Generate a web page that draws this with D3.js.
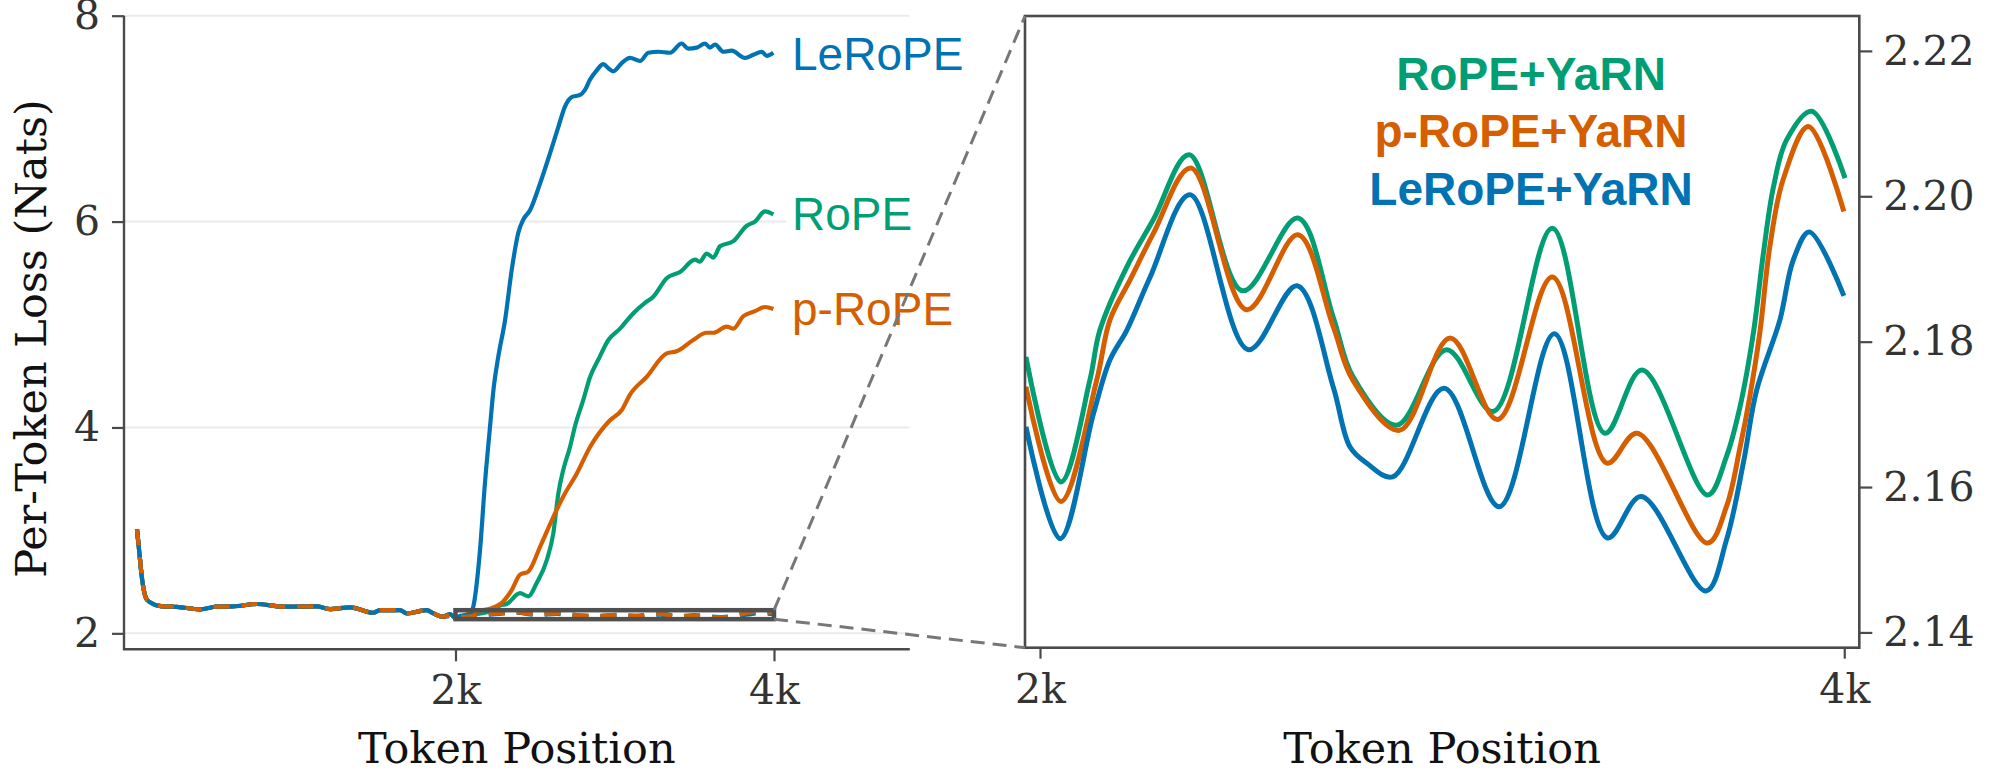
<!DOCTYPE html>
<html>
<head>
<meta charset="utf-8">
<script src="https://cdn.jsdelivr.net/npm/d3@7"></script>
<style>
  body { margin: 0; background: #fff; }
  svg { display: block; }
</style>
</head>
<body>
<div id="chart"></div>
<script>
// shared loss inside the training window (token, loss)
const baseLoss = [[0,3.01],[15,2.78],[30,2.55],[61,2.33],[102,2.285],[150,2.265],[250,2.258],[396,2.233],[500,2.259],[605,2.262],[752,2.285],[919,2.259],[1128,2.262],[1212,2.236],[1338,2.253],[1484,2.200],[1526,2.226],[1651,2.226],[1694,2.194],[1819,2.226],[1861,2.194],[1923,2.161],[1965,2.188],[2000,2.15]];

// extrapolation without YaRN
const ropeExt = [[2050,2.17],[2150,2.19],[2230,2.22],[2279,2.27],[2321,2.285],[2405,2.39],[2457,2.36],[2510,2.49],[2573,2.71],[2614,2.97],[2646,3.36],[2677,3.59],[2719,3.81],[2750,4.01],[2803,4.27],[2845,4.49],[2897,4.66],[2960,4.85],[3033,4.96],[3117,5.11],[3190,5.21],[3242,5.27],[3326,5.45],[3410,5.51],[3504,5.63],[3535,5.61],[3577,5.69],[3619,5.65],[3661,5.76],[3745,5.81],[3829,5.96],[3881,6.00],[3944,6.10],[3996,6.07]];
const pRopeExt = [[2050,2.17],[2112,2.21],[2217,2.24],[2300,2.31],[2353,2.42],[2405,2.57],[2457,2.60],[2531,2.84],[2614,3.13],[2677,3.33],[2761,3.55],[2845,3.81],[2970,4.07],[3044,4.17],[3096,4.32],[3200,4.49],[3326,4.72],[3389,4.74],[3493,4.85],[3577,4.92],[3619,4.92],[3703,4.98],[3745,4.96],[3807,5.08],[3881,5.13],[3944,5.17],[3996,5.15]];
const leRopeExt = [[2030,2.17],[2090,2.18],[2112,2.26],[2154,2.81],[2185,3.46],[2217,4.01],[2238,4.36],[2269,4.69],[2311,5.04],[2353,5.53],[2394,5.89],[2426,6.02],[2468,6.11],[2531,6.37],[2593,6.66],[2646,6.92],[2688,7.12],[2730,7.21],[2782,7.23],[2813,7.28],[2845,7.38],[2887,7.47],[2928,7.53],[2960,7.49],[2991,7.46],[3044,7.54],[3096,7.59],[3159,7.56],[3211,7.64],[3274,7.65],[3347,7.64],[3420,7.73],[3462,7.68],[3515,7.69],[3567,7.73],[3598,7.69],[3630,7.72],[3682,7.65],[3734,7.66],[3818,7.59],[3870,7.62],[3923,7.65],[3954,7.61],[3996,7.64]];

// extrapolation with YaRN (zoomed panel)
const ropeYarn = [[1965,2.1779],[2052,2.1607],[2124,2.1747],[2149,2.1816],[2216,2.1903],[2282,2.1968],[2371,2.2057],[2504,2.1870],[2641,2.1970],[2729,2.1834],[2778,2.1752],[2887,2.1685],[3011,2.1789],[3127,2.1704],[3274,2.1956],[3405,2.1674],[3497,2.1761],[3660,2.1589],[3707,2.1642],[3741,2.1711],[3774,2.1812],[3799,2.1922],[3824,2.2013],[3857,2.2078],[3919,2.2117],[4002,2.2025]];
const pRopeYarn = [[1965,2.1738],[2052,2.1580],[2141,2.1747],[2174,2.1830],[2224,2.1885],[2282,2.1949],[2375,2.2039],[2514,2.1844],[2641,2.1947],[2729,2.1821],[2778,2.1747],[2894,2.1678],[3020,2.1805],[3138,2.1693],[3274,2.1889],[3410,2.1633],[3485,2.1674],[3660,2.1523],[3707,2.1573],[3741,2.1655],[3765,2.1724],[3790,2.1812],[3815,2.1931],[3848,2.2023],[3911,2.2096],[3999,2.1979]];
const leRopeYarn = [[1965,2.1683],[2050,2.1529],[2133,2.1701],[2174,2.1775],[2216,2.1816],[2274,2.1889],[2373,2.2002],[2518,2.1789],[2639,2.1877],[2729,2.1738],[2771,2.1655],[2812,2.1633],[2877,2.1614],[3005,2.1736],[3142,2.1573],[3279,2.1811],[3411,2.1530],[3495,2.1587],[3656,2.1457],[3707,2.1527],[3749,2.1633],[3782,2.1733],[3840,2.1830],[3873,2.1912],[3913,2.1951],[3999,2.1863]];

const labelsLeft = ["LeRoPE", "RoPE", "p-RoPE"];
const labelsRight = ["RoPE+YaRN", "p-RoPE+YaRN", "LeRoPE+YaRN"];
const yTicksLeft = [2, 4, 6, 8];
const yTicksRight = [2.14, 2.16, 2.18, 2.20, 2.22];
const xTicks = [2000, 4000];
const xTickLabels = ["2k", "4k"];

const col = { rope: "#029e73", prope: "#d55e00", lerope: "#0173b2" };
const serif = "DejaVu Serif";
const sans = "Liberation Sans";
const spine = "#4a4a4a";

const W = 1992, H = 777;
const svg = d3.select("#chart").append("svg").attr("width", W).attr("height", H);

// panels
const L = { x0: 124, x1: 909.8, y0: 15.7, y1: 649.3 };
const R = { x0: 1025, x1: 1859.3, y0: 16, y1: 647.7 };

const xL = d3.scaleLinear().domain([-81.6, 4852.8]).range([L.x0, L.x1]);
const yL = d3.scaleLinear().domain([1.845, 8]).range([L.y1, L.y0]);
const xR = d3.scaleLinear().domain([1962.7, 4037.4]).range([R.x0, R.x1]);
const yR = d3.scaleLinear().domain([2.1379, 2.2248]).range([R.y1, R.y0]);

// grid (left)
svg.append("g").selectAll("line").data(yTicksLeft).join("line")
  .attr("x1", L.x0).attr("x2", L.x1)
  .attr("y1", d => yL(d)).attr("y2", d => yL(d))
  .attr("stroke", "#ebebeb").attr("stroke-width", 2);

// left lines
const lineL = d3.line().x(d => xL(d[0])).y(d => yL(d[1])).curve(d3.curveMonotoneX);
const pre = baseLoss.filter(d => d[0] < 1965);
const solids = [[ropeExt, col.rope], [pRopeExt, col.prope], [leRopeExt, col.lerope]];
solids.forEach(([ext, c]) => {
  svg.append("path").datum(baseLoss.concat(ext))
    .attr("fill", "none").attr("stroke", c).attr("stroke-width", 4.2)
    .attr("stroke-linejoin", "round").attr("d", lineL);
});
const dashed = [[ropeYarn, col.rope], [leRopeYarn, col.lerope], [pRopeYarn, col.prope]];
dashed.forEach(([ext, c]) => {
  svg.append("path").datum(pre.concat(ext))
    .attr("fill", "none").attr("stroke", c).attr("stroke-width", 4.2)
    .attr("stroke-dasharray", "16,12").attr("d", lineL);
});

// inset indicator
svg.append("rect")
  .attr("x", xL(2000)).attr("y", yL(2.2248))
  .attr("width", xL(4000) - xL(2000)).attr("height", yL(2.1379) - yL(2.2248))
  .attr("fill", "none").attr("stroke", "#505050").attr("stroke-width", 4.5);

// left labels with white background
const labelCol = [col.lerope, col.rope, col.prope];
const labelBase = [70, 230, 325];
labelsLeft.forEach((t, i) => {
  const g = svg.append("g");
  const tx = g.append("text").attr("x", 792).attr("y", labelBase[i])
    .attr("font-family", sans).attr("font-size", 46).attr("fill", labelCol[i]).text(t);
  const b = tx.node().getBBox();
  g.insert("rect", "text").attr("x", b.x - 6).attr("y", b.y).attr("width", b.width + 12)
    .attr("height", b.height).attr("fill", "#fff");
});

// left axes
const axL = svg.append("g").attr("transform", `translate(${L.x0},0)`)
  .call(d3.axisLeft(yL).tickValues(yTicksLeft).tickSize(12).tickPadding(12).tickFormat(d3.format("d")));
const axLB = svg.append("g").attr("transform", `translate(0,${L.y1})`)
  .call(d3.axisBottom(xL).tickValues(xTicks).tickSize(12).tickPadding(14).tickFormat((d, i) => xTickLabels[i]));

svg.append("path").attr("d", `M${L.x0},${L.y0}V${L.y1}H${L.x1}`)
  .attr("fill", "none").attr("stroke", spine).attr("stroke-width", 2.4);

// right panel lines
svg.append("clipPath").attr("id", "clipR").append("rect")
  .attr("x", R.x0).attr("y", R.y0).attr("width", R.x1 - R.x0).attr("height", R.y1 - R.y0);
const lineR = d3.line().x(d => xR(d[0])).y(d => yR(d[1])).curve(d3.curveCatmullRom.alpha(0.5));
const gR = svg.append("g").attr("clip-path", "url(#clipR)");
[[ropeYarn, col.rope], [pRopeYarn, col.prope], [leRopeYarn, col.lerope]].forEach(([s, c]) => {
  gR.append("path").datum(s).attr("fill", "none").attr("stroke", c)
    .attr("stroke-width", 5).attr("d", lineR);
});

const axR = svg.append("g").attr("transform", `translate(${R.x1},0)`)
  .call(d3.axisRight(yR).tickValues(yTicksRight).tickSize(13).tickPadding(11).tickFormat(d3.format(".2f")));
const axRB = svg.append("g").attr("transform", `translate(0,${R.y1})`)
  .call(d3.axisBottom(xR).tickValues(xTicks).tickSize(11).tickPadding(15).tickFormat((d, i) => xTickLabels[i]));

svg.append("rect").attr("x", R.x0).attr("y", R.y0)
  .attr("width", R.x1 - R.x0).attr("height", R.y1 - R.y0)
  .attr("fill", "none").attr("stroke", spine).attr("stroke-width", 2.6);

[axL, axLB, axR, axRB].forEach(a => {
  a.select(".domain").remove();
  a.selectAll(".tick line").attr("stroke", spine).attr("stroke-width", 2.2);
  a.selectAll(".tick text").attr("font-family", serif).attr("font-size", 41).attr("fill", "#333");
});

// legend in zoom panel
const legCol = [col.rope, col.prope, col.lerope];
const legBase = [90, 147, 205];
labelsRight.forEach((t, i) => {
  svg.append("text").attr("x", 1531).attr("y", legBase[i]).attr("text-anchor", "middle")
    .attr("font-family", sans).attr("font-weight", "bold").attr("font-size", 46)
    .attr("fill", legCol[i]).text(t);
});

// connectors
const conn = [[yL(2.2248), R.y0], [yL(2.1379), R.y1]];
conn.forEach(([y1, y2]) => {
  svg.append("line").attr("x1", xL(4000)).attr("y1", y1).attr("x2", R.x0).attr("y2", y2)
    .attr("stroke", "#777").attr("stroke-width", 3).attr("stroke-dasharray", "14,8");
});

// axis titles
svg.append("text").attr("transform", `translate(46,${(L.y0 + L.y1) / 2 + 6}) rotate(-90)`)
  .attr("text-anchor", "middle").attr("font-family", serif).attr("font-size", 43)
  .attr("fill", "#111").text("Per-Token Loss (Nats)");
svg.append("text").attr("x", (L.x0 + L.x1) / 2).attr("y", 763).attr("text-anchor", "middle")
  .attr("font-family", serif).attr("font-size", 43).attr("fill", "#111").text("Token Position");
svg.append("text").attr("x", (R.x0 + R.x1) / 2).attr("y", 763).attr("text-anchor", "middle")
  .attr("font-family", serif).attr("font-size", 43).attr("fill", "#111").text("Token Position");
</script>
</body>
</html>
